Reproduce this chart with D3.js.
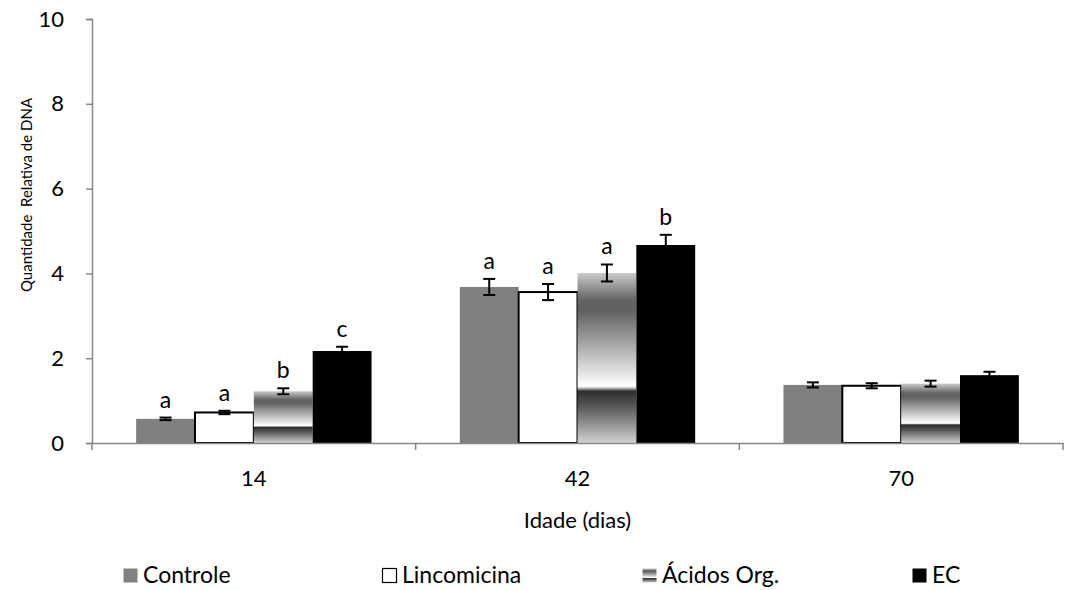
<!DOCTYPE html>
<html><head><meta charset="utf-8">
<script src="https://cdn.jsdelivr.net/npm/d3@7"></script>
<style>body{margin:0;background:#fff;} text{font-family:Lato, "Liberation Sans", sans-serif;}</style>
</head><body><svg id="c" width="1065" height="590"></svg>
<script>
const categories = ["14", "42", "70"];
const seriesNames = ["Controle", "Lincomicina", "Ácidos Org.", "EC"];
const controle = [0.57, 3.68, 1.37];
const lincomicina = [0.72, 3.56, 1.35];
const acidos = [1.22, 4.01, 1.40];
const ec = [2.17, 4.67, 1.60];
const errControle = [0.03, 0.19, 0.06];
const errLincomicina = [0.04, 0.19, 0.06];
const errAcidos = [0.07, 0.20, 0.07];
const errEc = [0.10, 0.24, 0.08];
const letters = [["a","a","b","c"],["a","a","a","b"],["","","",""]];
const yTicks = [0,2,4,6,8,10];

const values = [controle, lincomicina, acidos, ec];
const errors = [errControle, errLincomicina, errAcidos, errEc];

const svg = d3.select("#c");
const defs = svg.append("defs");
const grad = defs.append("linearGradient").attr("id","horizon").attr("x1",0).attr("y1",0).attr("x2",0).attr("y2",1);
[[0,"#cacaca"],[0.16,"#646464"],[0.22,"#606060"],[0.62,"#efefef"],[0.66,"#ffffff"],[0.67,"#f4f4f4"],[0.695,"#2e2e2e"],[0.78,"#555555"],[1,"#d2d2d2"]]
  .forEach(([o,c])=>grad.append("stop").attr("offset",o).attr("stop-color",c));

const fills = ["#808080","#ffffff","url(#horizon)","#000000"];
const strokes = ["none","#000","none","none"];

const x0 = 92, x1 = 1063, yTop = 19, yBot = 443;
const x = d3.scaleBand().domain(categories).range([x0,x1]).paddingInner(0).paddingOuter(0);
const bandW = x.bandwidth();
const barW = bandW/(4+1.5);
const xs = d3.scaleBand().domain(seriesNames).range([barW*0.75, barW*0.75+barW*4]);
const y = d3.scaleLinear().domain([0,10]).range([yBot,yTop]);

// bars
categories.forEach((cat,ci)=>{
  seriesNames.forEach((s,si)=>{
    const v = values[si][ci];
    const bx = x(cat)+xs(s);
    svg.append("rect").attr("x",bx).attr("y",y(v)).attr("width",xs.bandwidth()).attr("height",y(0)-y(v))
      .attr("fill",fills[si]).attr("stroke",strokes[si]).attr("stroke-width",si===1?2:0);
  });
});

// axes
const yAxis = svg.append("g").attr("transform",`translate(${x0},0)`)
  .call(d3.axisLeft(y).tickValues(yTicks).tickSize(6).tickPadding(22).tickFormat(d3.format("d")));
yAxis.select(".domain").attr("stroke","#868686").attr("stroke-width",1.5);
yAxis.selectAll(".tick line").attr("stroke","#868686").attr("stroke-width",1.5);
yAxis.selectAll(".tick text").attr("font-size",22).attr("fill","#000").style("font-family","Lato");

const xAxis = svg.append("g").attr("transform",`translate(0,${yBot})`)
  .call(d3.axisBottom(x).tickSize(0).tickPadding(27));
xAxis.select(".domain").attr("stroke","#868686").attr("stroke-width",1.5);
xAxis.selectAll(".tick text").attr("font-size",22).attr("fill","#000").style("font-family","Lato");
// category separators
const seps = categories.map(c=>x(c)).concat([x1]);
svg.selectAll(".sep").data(seps).enter().append("line")
  .attr("x1",d=>d).attr("x2",d=>d).attr("y1",yBot).attr("y2",yBot+7)
  .attr("stroke","#868686").attr("stroke-width",1.5);

// error bars + letters
categories.forEach((cat,ci)=>{
  seriesNames.forEach((s,si)=>{
    const v = values[si][ci], e = errors[si][ci];
    const cx = x(cat)+xs(s)+xs.bandwidth()/2;
    const g = svg.append("g").attr("stroke","#000").attr("stroke-width",2);
    g.append("line").attr("x1",cx).attr("x2",cx).attr("y1",y(v-e)).attr("y2",y(v+e));
    g.append("line").attr("x1",cx-6).attr("x2",cx+6).attr("y1",y(v-e)).attr("y2",y(v-e));
    g.append("line").attr("x1",cx-6).attr("x2",cx+6).attr("y1",y(v+e)).attr("y2",y(v+e));
    const l = letters[ci][si];
    if(l) svg.append("text").attr("x",cx).attr("y",y(v+e)-10).attr("text-anchor","middle")
      .attr("font-size",23).text(l);
  });
});

// axis titles
svg.append("text").attr("x",(x0+x1)/2).attr("y",528).attr("text-anchor","middle").attr("font-size",22).text("Idade (dias)");
svg.append("text").attr("transform","translate(32,195) rotate(-90)").attr("text-anchor","middle")
  .attr("font-size",15).style("white-space","pre").attr("xml:space","preserve").text("Quantidade  Relativa de DNA");

// legend
const legX = [123, 382, 642, 912];
seriesNames.forEach((s,i)=>{
  const g = svg.append("g").attr("transform",`translate(${legX[i]},568)`);
  g.append("rect").attr("x",0.5).attr("y",0.5).attr("width",14).attr("height",14)
    .attr("fill",fills[i]).attr("stroke",i===1?"#000":"none").attr("stroke-width",1.2);
  g.append("text").attr("x",20).attr("y",15).attr("font-size",23).text(s);
});
</script></body></html>
